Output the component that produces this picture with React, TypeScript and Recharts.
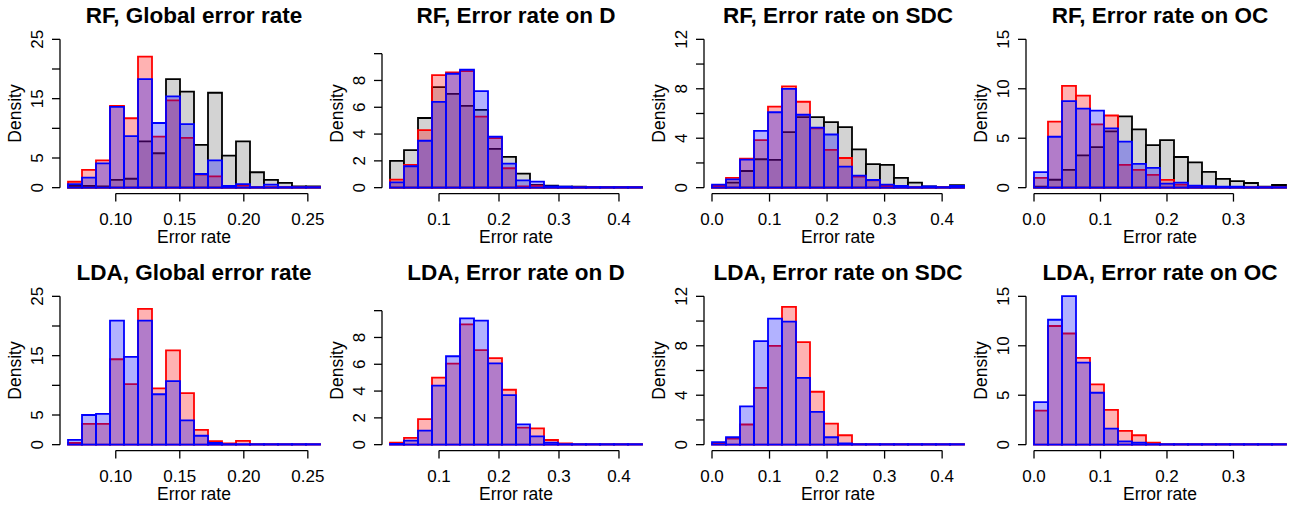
import { BarChart, Bar, XAxis, YAxis, ReferenceLine } from 'recharts';

// Histogram bin range (18 equal bins) for each column
const globalRange = [0.0627, 0.2595];
const dRange = [0.0183, 0.4384];
const sdcRange = [0, 0.438];
const ocRange = [0, 0.379];

const globalTicks = [0.1, 0.15, 0.2, 0.25];
const globalTickLabels = ['0.10', '0.15', '0.20', '0.25'];
const dTicks = [0.1, 0.2, 0.3, 0.4];
const dTickLabels = ['0.1', '0.2', '0.3', '0.4'];
const sdcTicks = [0, 0.1, 0.2, 0.3, 0.4];
const sdcTickLabels = ['0.0', '0.1', '0.2', '0.3', '0.4'];
const ocTicks = [0, 0.1, 0.2, 0.3];
const ocTickLabels = ['0.0', '0.1', '0.2', '0.3'];

const globalYMax = 25;
const dYMax = 11.07;
const sdcYMax = 12;
const ocYMax = 15;
const globalDensityTicks = [0, 5, 10, 15, 20, 25];
const globalDensityLabels = [0, 5, 15, 25];
const dDensityTicks = [0, 2, 4, 6, 8, 10];
const dDensityLabels = [0, 2, 4, 6, 8];
const sdcDensityTicks = [0, 2, 4, 6, 8, 10, 12];
const sdcDensityLabels = [0, 4, 8, 12];
const ocDensityTicks = [0, 5, 10, 15];
const ocDensityLabels = [0, 5, 10, 15];

// RF densities
const rfGlobalGray = [0.3, 0.3, 0.2, 1.3, 1.5, 7.8, 5.8, 18.3, 16.2, 7.2, 16.0, 5.4, 7.8, 2.6, 1.3, 0.8, 0.2, 0.2];
const rfGlobalRed = [1.0, 3.0, 4.6, 13.8, 11.7, 22.1, 8.6, 14.7, 8.4, 2.2, 1.9, 0.2, 0.4, 0, 0.1, 0, 0, 0];
const rfGlobalBlue = [0.6, 1.7, 4.1, 13.6, 8.7, 18.3, 10.9, 15.4, 10.7, 2.3, 4.6, 0.3, 0.6, 0.1, 0.5, 0, 0, 0];

const rfDGray = [2.0, 2.8, 5.2, 7.5, 7.0, 6.1, 5.8, 2.9, 2.3, 1.05, 0.2, 0.15, 0.07, 0.07, 0.03, 0.02, 0.02, 0.02];
const rfDRed = [0.6, 1.7, 4.3, 8.4, 8.6, 8.7, 5.3, 3.7, 1.45, 0.1, 0.15, 0.05, 0.02, 0, 0, 0, 0, 0];
const rfDBlue = [0.4, 1.6, 3.5, 6.4, 8.5, 8.8, 7.2, 3.8, 1.8, 0.55, 0.45, 0.1, 0.07, 0.03, 0, 0, 0, 0];

const rfSdcGray = [0.1, 0.4, 1.35, 2.3, 2.25, 4.5, 5.7, 5.7, 5.3, 4.9, 3.1, 1.9, 1.85, 0.8, 0.4, 0.1, 0.05, 0.2];
const rfSdcRed = [0.15, 0.8, 2.35, 3.85, 6.55, 8.2, 6.95, 4.8, 3.05, 2.4, 0.9, 0.6, 0.15, 0.05, 0, 0, 0, 0];
const rfSdcBlue = [0.25, 0.67, 2.27, 4.6, 6.1, 8.0, 5.9, 4.85, 4.3, 1.7, 0.97, 0.62, 0.25, 0.15, 0.05, 0.1, 0, 0.15];

const rfOcGray = [0.1, 0.8, 1.8, 3.27, 4.1, 5.7, 7.2, 5.9, 4.3, 4.8, 3.1, 2.55, 1.6, 0.88, 0.67, 0.47, 0.1, 0.27];
const rfOcRed = [1.0, 6.67, 10.3, 9.3, 6.4, 7.3, 2.3, 1.8, 1.3, 0.78, 0.3, 0.1, 0, 0, 0, 0, 0, 0];
const rfOcBlue = [1.58, 5.15, 8.76, 8.0, 7.8, 6.0, 4.65, 2.4, 2.0, 0.4, 0.5, 0.2, 0.15, 0.1, 0.1, 0, 0, 0];

// LDA densities
const ldaGlobalRed = [0.3, 3.5, 3.5, 14.4, 10.2, 22.9, 9.5, 15.9, 8.7, 2.5, 0.6, 0.2, 0.65, 0, 0, 0, 0, 0];
const ldaGlobalBlue = [0.8, 5.0, 5.2, 20.9, 14.8, 20.9, 8.5, 10.7, 4.1, 1.5, 0.3, 0.05, 0, 0, 0, 0, 0, 0];

const ldaDRed = [0.15, 0.5, 1.9, 5.0, 6.05, 8.98, 7.06, 6.46, 4.1, 1.27, 1.22, 0.35, 0.1, 0, 0, 0, 0, 0];
const ldaDBlue = [0.05, 0.3, 1.05, 4.4, 6.6, 9.43, 9.25, 6.06, 3.7, 1.52, 0.62, 0.15, 0.02, 0, 0, 0, 0, 0];

const ldaSdcRed = [0.1, 0.5, 1.63, 4.6, 8.0, 11.15, 8.3, 4.28, 1.7, 0.76, 0, 0, 0, 0, 0, 0, 0, 0];
const ldaSdcBlue = [0.2, 0.6, 3.1, 8.37, 10.2, 9.95, 5.4, 2.65, 0.6, 0.1, 0, 0, 0, 0, 0, 0, 0, 0];

const ldaOcRed = [3.45, 12.0, 11.24, 8.77, 6.1, 3.52, 1.39, 0.95, 0.2, 0, 0, 0, 0, 0, 0, 0, 0, 0];
const ldaOcBlue = [4.3, 12.63, 15.03, 8.3, 5.25, 1.63, 0.34, 0.2, 0.05, 0, 0, 0, 0, 0, 0, 0, 0, 0];

const FONT = '"Liberation Sans", Arial, Helvetica, sans-serif';
const CHART_W = 328;
const CHART_H = 256;
const AXIS_W = 60;
const PLOT_W = 268;
const PLOT_TOP = 33.4;
const PLOT_H = 160.2;
const PAD = 8; // gap between the axis and the first/last bin
const TICK = 8;
const BAR_STROKE = 1.8;

type Column = {
  range: number[];
  xTicks: number[];
  xLabels: string[];
  yMax: number;
  yTicks: number[];
  yLabels: number[];
};

const columns: Column[] = [
  { range: globalRange, xTicks: globalTicks, xLabels: globalTickLabels, yMax: globalYMax, yTicks: globalDensityTicks, yLabels: globalDensityLabels },
  { range: dRange, xTicks: dTicks, xLabels: dTickLabels, yMax: dYMax, yTicks: dDensityTicks, yLabels: dDensityLabels },
  { range: sdcRange, xTicks: sdcTicks, xLabels: sdcTickLabels, yMax: sdcYMax, yTicks: sdcDensityTicks, yLabels: sdcDensityLabels },
  { range: ocRange, xTicks: ocTicks, xLabels: ocTickLabels, yMax: ocYMax, yTicks: ocDensityTicks, yLabels: ocDensityLabels },
];

type Panel = { title: string; col: number; row: number; gray?: number[]; red: number[]; blue: number[] };

const panels: Panel[] = [
  { title: 'RF, Global error rate', col: 0, row: 0, gray: rfGlobalGray, red: rfGlobalRed, blue: rfGlobalBlue },
  { title: 'RF, Error rate on D', col: 1, row: 0, gray: rfDGray, red: rfDRed, blue: rfDBlue },
  { title: 'RF, Error rate on SDC', col: 2, row: 0, gray: rfSdcGray, red: rfSdcRed, blue: rfSdcBlue },
  { title: 'RF, Error rate on OC', col: 3, row: 0, gray: rfOcGray, red: rfOcRed, blue: rfOcBlue },
  { title: 'LDA, Global error rate', col: 0, row: 1, red: ldaGlobalRed, blue: ldaGlobalBlue },
  { title: 'LDA, Error rate on D', col: 1, row: 1, red: ldaDRed, blue: ldaDBlue },
  { title: 'LDA, Error rate on SDC', col: 2, row: 1, red: ldaSdcRed, blue: ldaSdcBlue },
  { title: 'LDA, Error rate on OC', col: 3, row: 1, red: ldaOcRed, blue: ldaOcBlue },
];

function HistPanel({ panel }: { panel: Panel }) {
  const c = columns[panel.col];
  const [lo, hi] = c.range;
  const perPx = (hi - lo) / (PLOT_W - 2 * PAD);
  const xDomain = [lo - PAD * perPx, hi + PAD * perPx];
  const yDomain = [-0.04 * c.yMax, 1.04 * c.yMax];
  const binW = (hi - lo) / panel.red.length;

  const rows = panel.red.map((r, i) => ({
    bin: (lo + i * binW).toFixed(4),
    mid: lo + (i + 0.5) * binW,
    gray: panel.gray ? panel.gray[i] : undefined,
    red: r,
    blue: panel.blue[i],
  }));

  const xTick = (p: any) => {
    const idx = c.xTicks.indexOf(p.payload.value);
    return (
      <g>
        <line x1={p.x} x2={p.x} y1={p.y} y2={p.y + TICK} stroke="#000" strokeWidth={1.3} />
        <text x={p.x} y={p.y + 31.4} textAnchor="middle" fontSize={17} fontFamily={FONT} fill="#000">
          {c.xLabels[idx]}
        </text>
      </g>
    );
  };

  const yTick = (p: any) => {
    const v = p.payload.value;
    const lx = p.x - 16.7;
    return (
      <g>
        <line x1={p.x - TICK} x2={p.x} y1={p.y} y2={p.y} stroke="#000" strokeWidth={1.3} />
        {c.yLabels.includes(v) && (
          <text x={lx} y={p.y} transform={`rotate(-90, ${lx}, ${p.y})`} textAnchor="middle" fontSize={17} fontFamily={FONT} fill="#000">
            {v}
          </text>
        )}
      </g>
    );
  };

  const midX = AXIS_W + PLOT_W / 2;
  const midY = PLOT_TOP + PLOT_H / 2;

  return (
    <div style={{ position: 'absolute', left: panel.col * 322, top: panel.row * 257, width: CHART_W, height: CHART_H }}>
      <BarChart
        width={CHART_W}
        height={CHART_H}
        data={rows}
        margin={{ top: PLOT_TOP, right: 0, bottom: 0, left: 0 }}
        barCategoryGap={0}
        barGap="-100%"
      >
        <XAxis xAxisId="bins" dataKey="bin" type="category" orientation="top" height={0} hide padding={{ left: PAD, right: PAD }} />
        <XAxis
          xAxisId="num"
          dataKey="mid"
          type="number"
          domain={xDomain}
          allowDataOverflow
          ticks={c.xTicks}
          interval={0}
          tick={xTick}
          tickSize={0}
          tickMargin={0}
          tickLine={false}
          axisLine={false}
          height={CHART_H - PLOT_TOP - PLOT_H}
        />
        <YAxis
          yAxisId="y"
          type="number"
          domain={yDomain}
          allowDataOverflow
          ticks={c.yTicks}
          interval={0}
          tick={yTick}
          tickSize={0}
          tickMargin={0}
          tickLine={false}
          axisLine={false}
          width={AXIS_W}
        />
        {panel.gray && (
          <Bar xAxisId="bins" yAxisId="y" dataKey="gray" fill="#d3d3d3" stroke="#000" strokeWidth={BAR_STROKE} minPointSize={0.5} isAnimationActive={false} />
        )}
        <Bar xAxisId="bins" yAxisId="y" dataKey="red" fill="#ff0000" fillOpacity={0.3} stroke="#ff0000" strokeWidth={BAR_STROKE} minPointSize={0.5} isAnimationActive={false} />
        <Bar xAxisId="bins" yAxisId="y" dataKey="blue" fill="#0000ff" fillOpacity={0.3} stroke="#0000ff" strokeWidth={BAR_STROKE} minPointSize={0.5} isAnimationActive={false} />
        <ReferenceLine
          xAxisId="num"
          yAxisId="y"
          ifOverflow="visible"
          stroke="#000"
          strokeWidth={1.3}
          segment={[
            { x: c.xTicks[0], y: yDomain[0] },
            { x: c.xTicks[c.xTicks.length - 1], y: yDomain[0] },
          ]}
        />
        <ReferenceLine
          xAxisId="num"
          yAxisId="y"
          ifOverflow="visible"
          stroke="#000"
          strokeWidth={1.3}
          segment={[
            { x: xDomain[0], y: 0 },
            { x: xDomain[0], y: c.yTicks[c.yTicks.length - 1] },
          ]}
        />
      </BarChart>
      <svg width={CHART_W} height={CHART_H} style={{ position: 'absolute', left: 0, top: 0, pointerEvents: 'none' }}>
        <text x={midX} y={23} textAnchor="middle" fontSize={22.5} fontWeight="bold" fontFamily={FONT} fill="#000">
          {panel.title}
        </text>
        <text x={midX} y={243} textAnchor="middle" fontSize={17.5} fontFamily={FONT} fill="#000">
          Error rate
        </text>
        <text x={20.8} y={midY} transform={`rotate(-90, 20.8, ${midY})`} textAnchor="middle" fontSize={17.5} fontFamily={FONT} fill="#000">
          Density
        </text>
      </svg>
    </div>
  );
}

export default function App() {
  return (
    <div style={{ position: 'absolute', left: 0, top: 0, width: 1294, height: 511, background: '#fff', overflow: 'hidden' }}>
      {panels.map((p) => (
        <HistPanel key={p.title} panel={p} />
      ))}
    </div>
  );
}
